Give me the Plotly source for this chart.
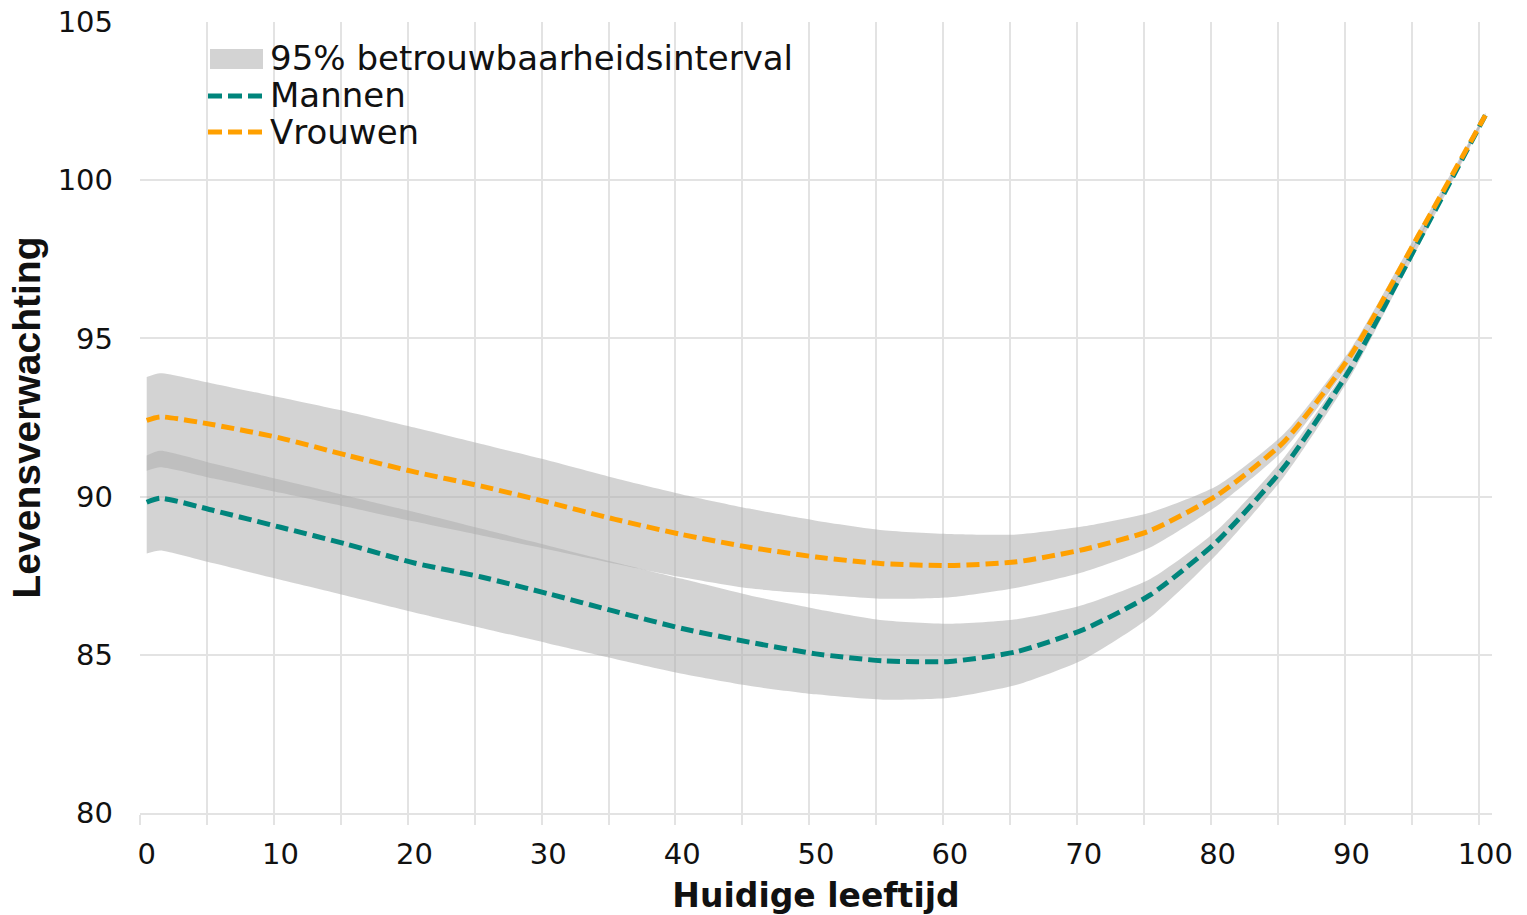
import plotly.graph_objects as go

# ---------------- data ----------------
ages = [0, 1, 5, 10, 15, 20, 25, 30, 35, 40, 45, 50, 55, 60, 65, 70, 75, 80, 85, 90, 95, 100]

vrouwen = [92.41, 92.52, 92.27, 91.85, 91.30, 90.78, 90.33, 89.82, 89.28, 88.80, 88.40, 88.09,
           87.88, 87.82, 87.94, 88.33, 88.93, 90.05, 91.75, 94.50, 98.25, 102.05]
vrouwen_hi = [93.78, 93.90, 93.57, 93.13, 92.68, 92.18, 91.66, 91.14, 90.58, 90.07, 89.62, 89.24,
              88.94, 88.82, 88.80, 89.06, 89.50, 90.35, 92.00, 94.70, 98.40, 102.12]
vrouwen_lo = [90.82, 90.93, 90.57, 90.12, 89.67, 89.21, 88.77, 88.33, 87.88, 87.45, 87.10, 86.92,
              86.77, 86.82, 87.12, 87.62, 88.40, 89.72, 91.50, 94.30, 98.10, 101.98]

mannen = [89.82, 89.95, 89.56, 89.03, 88.49, 87.90, 87.46, 86.93, 86.37, 85.83, 85.40, 85.03,
          84.81, 84.79, 85.10, 85.80, 86.90, 88.60, 90.95, 94.10, 98.05, 102.05]
mannen_hi = [91.30, 91.45, 91.04, 90.53, 90.02, 89.51, 88.98, 88.45, 87.92, 87.40, 86.88, 86.45,
             86.09, 85.98, 86.12, 86.58, 87.40, 88.95, 91.25, 94.30, 98.20, 102.12]
mannen_lo = [88.20, 88.30, 87.89, 87.37, 86.86, 86.34, 85.85, 85.36, 84.87, 84.40, 84.02, 83.75,
             83.58, 83.64, 84.05, 84.85, 86.20, 88.20, 90.65, 93.85, 97.90, 101.98]

x_ticks = [0, 10, 20, 30, 40, 50, 60, 70, 80, 90, 100]
y_ticks = [80, 85, 90, 95, 100, 105]

legend_labels = ["95% betrouwbaarheidsinterval", "Mannen", "Vrouwen"]

# ---------------- style ----------------
TEAL = "#00857C"
ORANGE = "#FFA000"
BAND = "rgba(174,174,174,0.545)"
GRID = "#e3e3e3"
FONT = "DejaVu Sans, Verdana, sans-serif"

W, H = 1527, 915
L, R, T, B = 140, 35, 22, 102
PW, PH = W - L - R, H - T - B


def px_x(p):
    return (p - L) / PW


def px_y(p):
    return (H - B - p) / PH


fig = go.Figure()


def add_band(lo, hi):
    fig.add_trace(go.Scatter(x=ages, y=lo, mode="lines", line=dict(width=0, shape="spline", smoothing=0.6),
                             showlegend=False, hoverinfo="skip"))
    fig.add_trace(go.Scatter(x=ages, y=hi, mode="lines", line=dict(width=0, shape="spline", smoothing=0.6),
                             fill="tonexty", fillcolor=BAND, showlegend=False, hoverinfo="skip"))


add_band(vrouwen_lo, vrouwen_hi)
add_band(mannen_lo, mannen_hi)

fig.add_trace(go.Scatter(x=ages, y=mannen, mode="lines", name="Mannen",
                         line=dict(color=TEAL, width=5, dash="13px,6px", shape="spline", smoothing=0.6),
                         showlegend=False))
fig.add_trace(go.Scatter(x=ages, y=vrouwen, mode="lines", name="Vrouwen",
                         line=dict(color=ORANGE, width=5, dash="13px,6px", shape="spline", smoothing=0.6),
                         showlegend=False))

# ---------------- manual legend ----------------
fig.add_shape(type="rect", xref="paper", yref="paper",
              x0=px_x(210), x1=px_x(263), y0=px_y(69), y1=px_y(49),
              fillcolor="#d3d3d3", line=dict(width=0), layer="above")
fig.add_shape(type="line", xref="paper", yref="paper",
              x0=px_x(208), x1=px_x(262), y0=px_y(96), y1=px_y(96),
              line=dict(color=TEAL, width=5, dash="14px,6px"), layer="above")
fig.add_shape(type="line", xref="paper", yref="paper",
              x0=px_x(208), x1=px_x(262), y0=px_y(132), y1=px_y(132),
              line=dict(color=ORANGE, width=5, dash="14px,6px"), layer="above")
for lab, yc in zip(legend_labels, [58, 95, 132]):
    fig.add_annotation(text=lab, xref="paper", yref="paper", x=px_x(268), y=px_y(yc),
                       xanchor="left", yanchor="middle", showarrow=False,
                       font=dict(family=FONT, size=34, color="#111111"))

fig.update_layout(
    width=W, height=H,
    margin=dict(l=L, r=R, t=T, b=B, autoexpand=False),
    paper_bgcolor="white", plot_bgcolor="white",
    showlegend=False,
    font=dict(family=FONT, color="#111111"),
    xaxis=dict(
        range=[-0.5, 100.5], tickvals=x_ticks, ticks="", showgrid=False, zeroline=False,
        showline=True, linecolor=GRID, linewidth=2,
        tickfont=dict(family=FONT, size=29, color="#111111"),
        ticklabelstandoff=14,
        minor=dict(tick0=-0.5, dtick=5, showgrid=True, gridcolor=GRID, gridwidth=2,
                   ticks="outside", ticklen=10, tickcolor=GRID, tickwidth=2),
        title=dict(text="<b>Huidige leeftijd</b>", standoff=18,
                   font=dict(family="DejaVu Sans, Verdana, sans-serif", size=33, color="#111111")),
        automargin=False,
    ),
    yaxis=dict(
        range=[80, 105], tickvals=y_ticks, showgrid=True, gridcolor=GRID, gridwidth=2,
        zeroline=False, showline=False, ticks="",
        tickfont=dict(family=FONT, size=29, color="#111111"),
        ticklabelstandoff=26,
        title=dict(text="<b>Levensverwachting</b>", standoff=4,
                   font=dict(family="Liberation Sans, Arial, sans-serif", size=39, color="#111111")),
        automargin=False,
    ),
)

fig.write_html("out.html")
